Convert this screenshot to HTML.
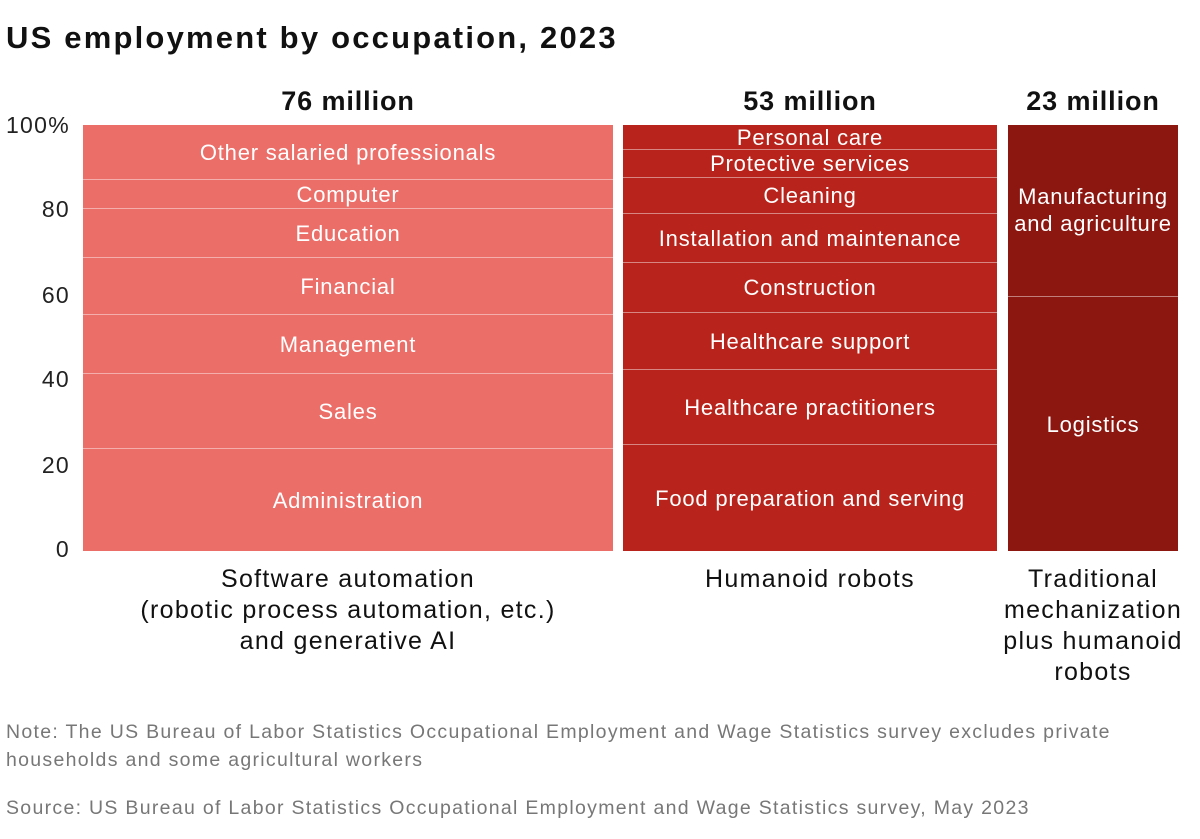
<!DOCTYPE html>
<html><head><meta charset="utf-8"><style>
body{margin:0;background:#fff;width:1200px;height:839px;position:relative;font-family:"Liberation Sans",sans-serif;overflow:hidden}
.a{position:absolute}
.t{left:6px;top:20px;font-size:31px;font-weight:bold;color:#111;letter-spacing:2.2px;white-space:nowrap}
.m{font-size:27px;font-weight:bold;color:#111;text-align:center;top:86px;letter-spacing:0.9px}
.tick{font-size:23px;color:#222;right:1130px;text-align:right;letter-spacing:1.3px}
.seg{position:absolute;left:0;right:0;display:flex;align-items:center;justify-content:center;text-align:center;color:#fff;font-size:22px;line-height:27px;letter-spacing:0.8px;border-top:1.5px solid rgba(255,255,255,.45);box-sizing:border-box;white-space:nowrap}
.col{position:absolute;top:125px;height:426px}
.cat{font-size:25px;color:#111;text-align:center;line-height:31px;top:564px;letter-spacing:1.3px;white-space:nowrap}
.n{left:6px;font-size:19.5px;color:#777;line-height:28px;letter-spacing:1.3px;white-space:nowrap}
</style></head><body>
<div class="a t">US employment by occupation, 2023</div>
<div class="a m" style="left:83px;width:530px">76 million</div>
<div class="a m" style="left:623px;width:374px">53 million</div>
<div class="a m" style="left:1008px;width:170px">23 million</div>
<div class="a tick" style="top:112px">100%</div>
<div class="a tick" style="top:196px">80</div>
<div class="a tick" style="top:282px">60</div>
<div class="a tick" style="top:366px">40</div>
<div class="a tick" style="top:452px">20</div>
<div class="a tick" style="top:536px">0</div>

<div class="col" style="left:83px;width:530px;background:#ec6e69">
<div class="seg" style="top:0;height:54px;border-top:0">Other salaried professionals</div>
<div class="seg" style="top:54px;height:29px">Computer</div>
<div class="seg" style="top:83px;height:49px">Education</div>
<div class="seg" style="top:132px;height:57px">Financial</div>
<div class="seg" style="top:189px;height:59px">Management</div>
<div class="seg" style="top:248px;height:75px">Sales</div>
<div class="seg" style="top:323px;height:103px">Administration</div>
</div>
<div class="col" style="left:623px;width:374px;background:#b8241c">
<div class="seg" style="top:0;height:24px;border-top:0">Personal care</div>
<div class="seg" style="top:24px;height:28px">Protective services</div>
<div class="seg" style="top:52px;height:36px">Cleaning</div>
<div class="seg" style="top:88px;height:49px">Installation and maintenance</div>
<div class="seg" style="top:137px;height:50px">Construction</div>
<div class="seg" style="top:187px;height:57px">Healthcare support</div>
<div class="seg" style="top:244px;height:75px">Healthcare practitioners</div>
<div class="seg" style="top:319px;height:107px">Food preparation and serving</div>
</div>
<div class="col" style="left:1008px;width:170px;background:#8c1610">
<div class="seg" style="top:0;height:171px;border-top:0;align-items:flex-start;padding-top:58px">Manufacturing<br>and agriculture</div>
<div class="seg" style="top:171px;height:255px">Logistics</div>
</div>

<div class="a cat" style="left:83px;width:530px">Software automation<br>(robotic process automation, etc.)<br>and generative AI</div>
<div class="a cat" style="left:623px;width:374px">Humanoid robots</div>
<div class="a cat" style="left:983px;width:220px">Traditional<br>mechanization<br>plus humanoid<br>robots</div>

<div class="a n" style="top:718px">Note: The US Bureau of Labor Statistics Occupational Employment and Wage Statistics survey excludes private<br>households and some agricultural workers</div>
<div class="a n" style="top:794px">Source: US Bureau of Labor Statistics Occupational Employment and Wage Statistics survey, May 2023</div>
</body></html>
